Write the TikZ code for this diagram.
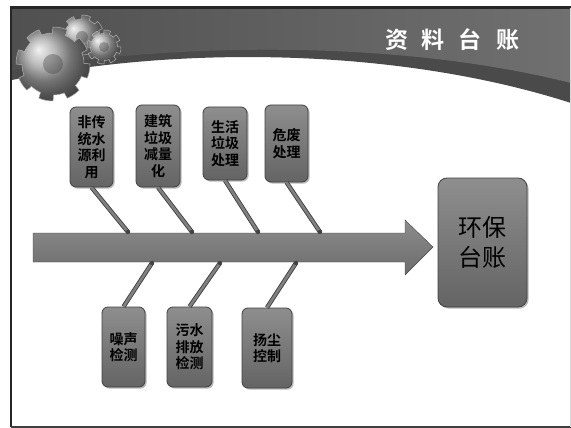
\documentclass[tikz,border=0pt]{standalone}
\usepackage{fontspec}
\newfontfamily\cjk{Noto Sans CJK SC}[BoldFont={Noto Sans CJK SC Bold}]
\usetikzlibrary{positioning}
\usetikzlibrary{calc}
\usetikzlibrary{shadows}
\definecolor{HeadDark}{RGB}{80,80,80}
\definecolor{HeadLight}{RGB}{112,112,112}
\definecolor{HeadStrip}{RGB}{74,74,74}
\definecolor{CardTop}{RGB}{142,142,142}
\definecolor{CardBottom}{RGB}{100,100,100}
\definecolor{CardLine}{RGB}{66,66,66}
\definecolor{SpineTop}{RGB}{140,140,140}
\definecolor{SpineBottom}{RGB}{108,108,108}
\definecolor{BoneFill}{RGB}{128,128,128}

\tikzset{
	card/.style={draw=CardLine,line width=0.8pt,rounded corners=6pt,top color=CardTop,bottom color=CardBottom,
		inner sep=0pt,align=center,font=\cjk\bfseries\fontsize{14}{16.5}\selectfont,
		drop shadow={shadow xshift=1.6pt,shadow yshift=-1.6pt,opacity=0.55}},
	bone/.style={line width=0.9pt,draw=CardLine,double=BoneFill,double distance=2.6pt},
	knot/.style={fill=CardLine},
	gear/.style={draw=gray!60,line width=0.5pt,shading=ball,ball color=gray!70},
}

\begin{document}
\begin{tikzpicture}[x=1pt,y=-1pt]
	\useasboundingbox (0,0) rectangle (571,428);
	\fill[white] (0,0) rectangle (571,428);

	% header band with its curved lower edge
	\fill[HeadStrip] (12,8) -- (571,8) -- (571,103) .. controls (400,48) and (180,45) .. (12,80) -- cycle;
	\shade[left color=HeadDark,right color=HeadLight] (12,8) -- (571,8) -- (571,83) .. controls (400,40) and (180,42) .. (12,70) -- cycle;

	% gears in the corner
	\begin{scope}[shift={(82,37)}]
		\draw[gear] plot[domain=0:360,samples=289] (\x:{22-4*(sin(8*\x)<0)}) -- cycle;
		\fill[gray!45!black,opacity=0.35] (0,0) circle (6);
	\end{scope}
	\begin{scope}[shift={(104,47)}]
		\draw[gear] plot[domain=0:360,samples=289] (\x:{17-3.5*(sin(8*\x)<0)}) -- cycle;
		\fill[gray!45!black,opacity=0.35] (0,0) circle (5);
	\end{scope}
	\begin{scope}[shift={(53,64)}]
		\draw[gear] plot[domain=0:360,samples=289] (\x:{37-6*(sin(8*\x)<0)}) -- cycle;
		\fill[gray!45!black,opacity=0.35] (0,0) circle (10);
	\end{scope}

	\node[font=\cjk\bfseries\fontsize{23}{23}\selectfont,text=white] (title) at (452,40)
		{资\hspace{14pt}料\hspace{14pt}台\hspace{14pt}账};

	% the spine
	\shade[top color=SpineTop,bottom color=SpineBottom,draw=gray!55!black,line width=0.4pt]
		(33,233) -- (405,233) -- (405,220) -- (433,247) -- (405,275) -- (405,262) -- (33,262) -- cycle;
	\coordinate (t1) at (128,232);
	\coordinate (t2) at (192,232);
	\coordinate (t3) at (258,232);
	\coordinate (t4) at (320,232);
	\coordinate (u5) at (152,263);
	\coordinate (u6) at (220,263);
	\coordinate (u7) at (296,263);

	% cards above and below the spine
	\node[card,minimum width=43pt,minimum height=80pt] (water) at (91.5,147) {非传\\统水\\源利\\用};
	\node[card,minimum width=44pt,minimum height=82pt] (build) at (158,146) {建筑\\垃圾\\减量\\化};
	\node[card,minimum width=44pt,minimum height=73pt] (life) at (225,143.5) {生活\\垃圾\\处理};
	\node[card,minimum width=43pt,minimum height=77pt] (hazard) at (286.5,143.5) {危废\\处理};
	\node[card,minimum width=43pt,minimum height=80pt] (noise) at (123.5,347) {噪声\\检测};
	\node[card,minimum width=45pt,minimum height=80pt] (sewage) at (189.5,347) {污水\\排放\\检测};
	\node[card,minimum width=50pt,minimum height=80pt] (dust) at (267,348) {扬尘\\控制};
	\node[card,minimum width=89pt,minimum height=129pt,rounded corners=9pt,
		font=\cjk\fontsize{24}{30}\selectfont] (ledger) at (482.5,242.5) {环保\\台账};

	\draw[bone] (water.south) -- (t1);
	\draw[bone] (build.south) -- (t2);
	\draw[bone] (life.south) -- (t3);
	\draw[bone] (hazard.south) -- (t4);
	\draw[bone] (noise.north) -- (u5);
	\draw[bone] (sewage.north) -- (u6);
	\draw[bone] (dust.north) -- (u7);
	\foreach \p in {t1,t2,t3,t4,u5,u6,u7}
		\fill[knot] (\p) circle (2.2);

	% slide frame
	\draw[black!85,line width=2.4pt] (11.2,427) -- (11.2,7.5) -- (571,7.5);
	\draw[black!75,line width=1.6pt] (11.2,427) -- (571,427);
	\draw[gray!30,line width=1.2pt] (570.4,8) -- (570.4,427);
\end{tikzpicture}
\end{document}
